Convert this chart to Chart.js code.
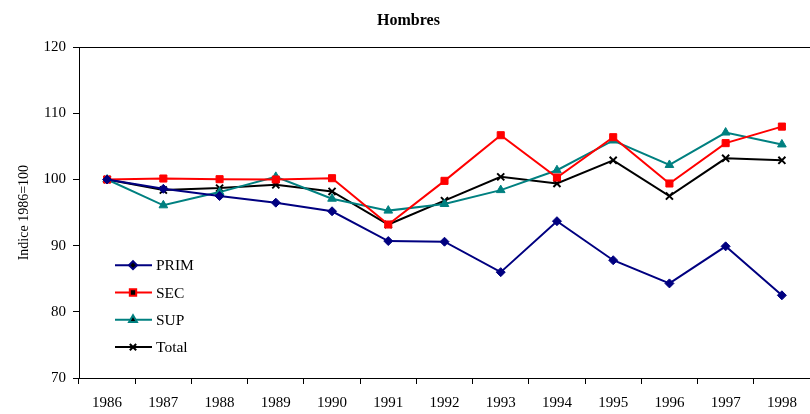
<!DOCTYPE html>
<html>
<head>
<meta charset="utf-8">
<title>Hombres</title>
<script src="https://cdn.jsdelivr.net/npm/chart.js@4/dist/chart.umd.min.js"></script>
<style>
  html, body { margin: 0; padding: 0; background: #fff; overflow: hidden; }
  #wrap { width: 817px; height: 414px; }
</style>
</head>
<body>
<div id="wrap"><canvas id="chart" width="817" height="414"></canvas></div>
<script>
const years = ['1986', '1987', '1988', '1989', '1990', '1991', '1992', '1993', '1994', '1995', '1996', '1997', '1998'];
const prim  = [100, 98.6, 97.5, 96.5, 95.2, 90.7, 90.6, 86.0, 93.7, 87.8, 84.3, 89.9, 82.5];
const sec   = [100, 100.15, 100.05, 100.0, 100.2, 93.2, 99.8, 106.7, 100.3, 106.4, 99.4, 105.5, 108.0];
const sup   = [100, 96.1, 98.1, 100.4, 97.1, 95.3, 96.3, 98.4, 101.4, 105.9, 102.2, 107.1, 105.3];
const total = [100, 98.4, 98.7, 99.2, 98.2, 93.2, 96.8, 100.4, 99.4, 102.9, 97.5, 103.2, 102.9];
const yTicks = [70, 80, 90, 100, 110, 120];

const serif = 'Liberation Serif, "Times New Roman", serif';

// legend drawn inside the plot, lower left
const insideLegend = {
  id: 'insideLegend',
  afterDraw(chart) {
    const ctx = chart.ctx;
    const area = chart.chartArea;
    const x0 = area.left + 36;
    let y = area.top + 218;
    ctx.save();
    chart.data.datasets.forEach(ds => {
      ctx.strokeStyle = ds.borderColor;
      ctx.lineWidth = 2;
      ctx.beginPath();
      ctx.moveTo(x0, y);
      ctx.lineTo(x0 + 37, y);
      ctx.stroke();
      Chart.helpers.drawPoint(ctx, {
        pointStyle: ds.pointStyle,
        radius: ds.pointRadius - 0.5,
        borderWidth: ds.pointBorderWidth || 1,
        rotation: 0
      }, x0 + 18, y);
      ctx.fillStyle = '#000';
      ctx.font = '15.5px ' + serif;
      ctx.textBaseline = 'middle';
      ctx.textAlign = 'left';
      ctx.fillText(ds.label, x0 + 41, y + 1);
      y += 27.3;
    });
    ctx.restore();
  }
};

function line(label, data, color, style, radius, bw) {
  return {
    label: label,
    data: data,
    borderColor: color,
    backgroundColor: color,
    borderWidth: 2,
    pointStyle: style,
    pointRadius: radius,
    pointBorderWidth: bw,
    pointBorderColor: color,
    pointBackgroundColor: color,
    tension: 0
  };
}

new Chart(document.getElementById('chart'), {
  type: 'line',
  data: {
    labels: years,
    datasets: [
      line('PRIM', prim, '#000080', 'rectRot', 4.5, 1),
      line('SEC', sec, '#ff0000', 'rect', 5, 1),
      line('SUP', sup, '#008080', 'triangle', 5, 1),
      line('Total', total, '#000000', 'crossRot', 5, 2)
    ]
  },
  options: {
    responsive: false,
    animation: false,
    layout: { padding: 0 },
    plugins: {
      legend: { display: false },
      tooltip: { enabled: false },
      title: {
        display: true,
        text: 'Hombres',
        color: '#000',
        font: { family: serif, size: 16, weight: 'bold' },
        padding: { top: 11, bottom: 17 }
      }
    },
    scales: {
      x: {
        offset: true,
        grid: {
          offset: true,
          drawOnChartArea: false,
          tickLength: 6,
          tickColor: '#000'
        },
        border: { display: true, color: '#000', width: 1 },
        ticks: {
          color: '#000',
          font: { family: serif, size: 15 },
          padding: 10,
          maxRotation: 0,
          autoSkip: false
        },
        afterFit(scale) { scale.height = 36; }
      },
      y: {
        min: 70,
        max: 120,
        afterBuildTicks(scale) {
          scale.ticks = yTicks.map(v => ({ value: v }));
        },
        grid: {
          color: c => (c.tick && c.tick.value === 120 ? '#000' : 'rgba(0,0,0,0)'),
          tickColor: '#000',
          tickLength: 6,
          lineWidth: 1
        },
        border: { display: true, color: '#000', width: 1 },
        ticks: {
          color: '#000',
          font: { family: serif, size: 15 },
          padding: 7
        },
        title: {
          display: true,
          text: 'Indice 1986=100',
          color: '#000',
          font: { family: serif, size: 14 },
          padding: { top: 16, bottom: 0 }
        },
        afterFit(scale) { scale.width = 79; }
      }
    }
  },
  plugins: [insideLegend]
});
</script>
</body>
</html>
